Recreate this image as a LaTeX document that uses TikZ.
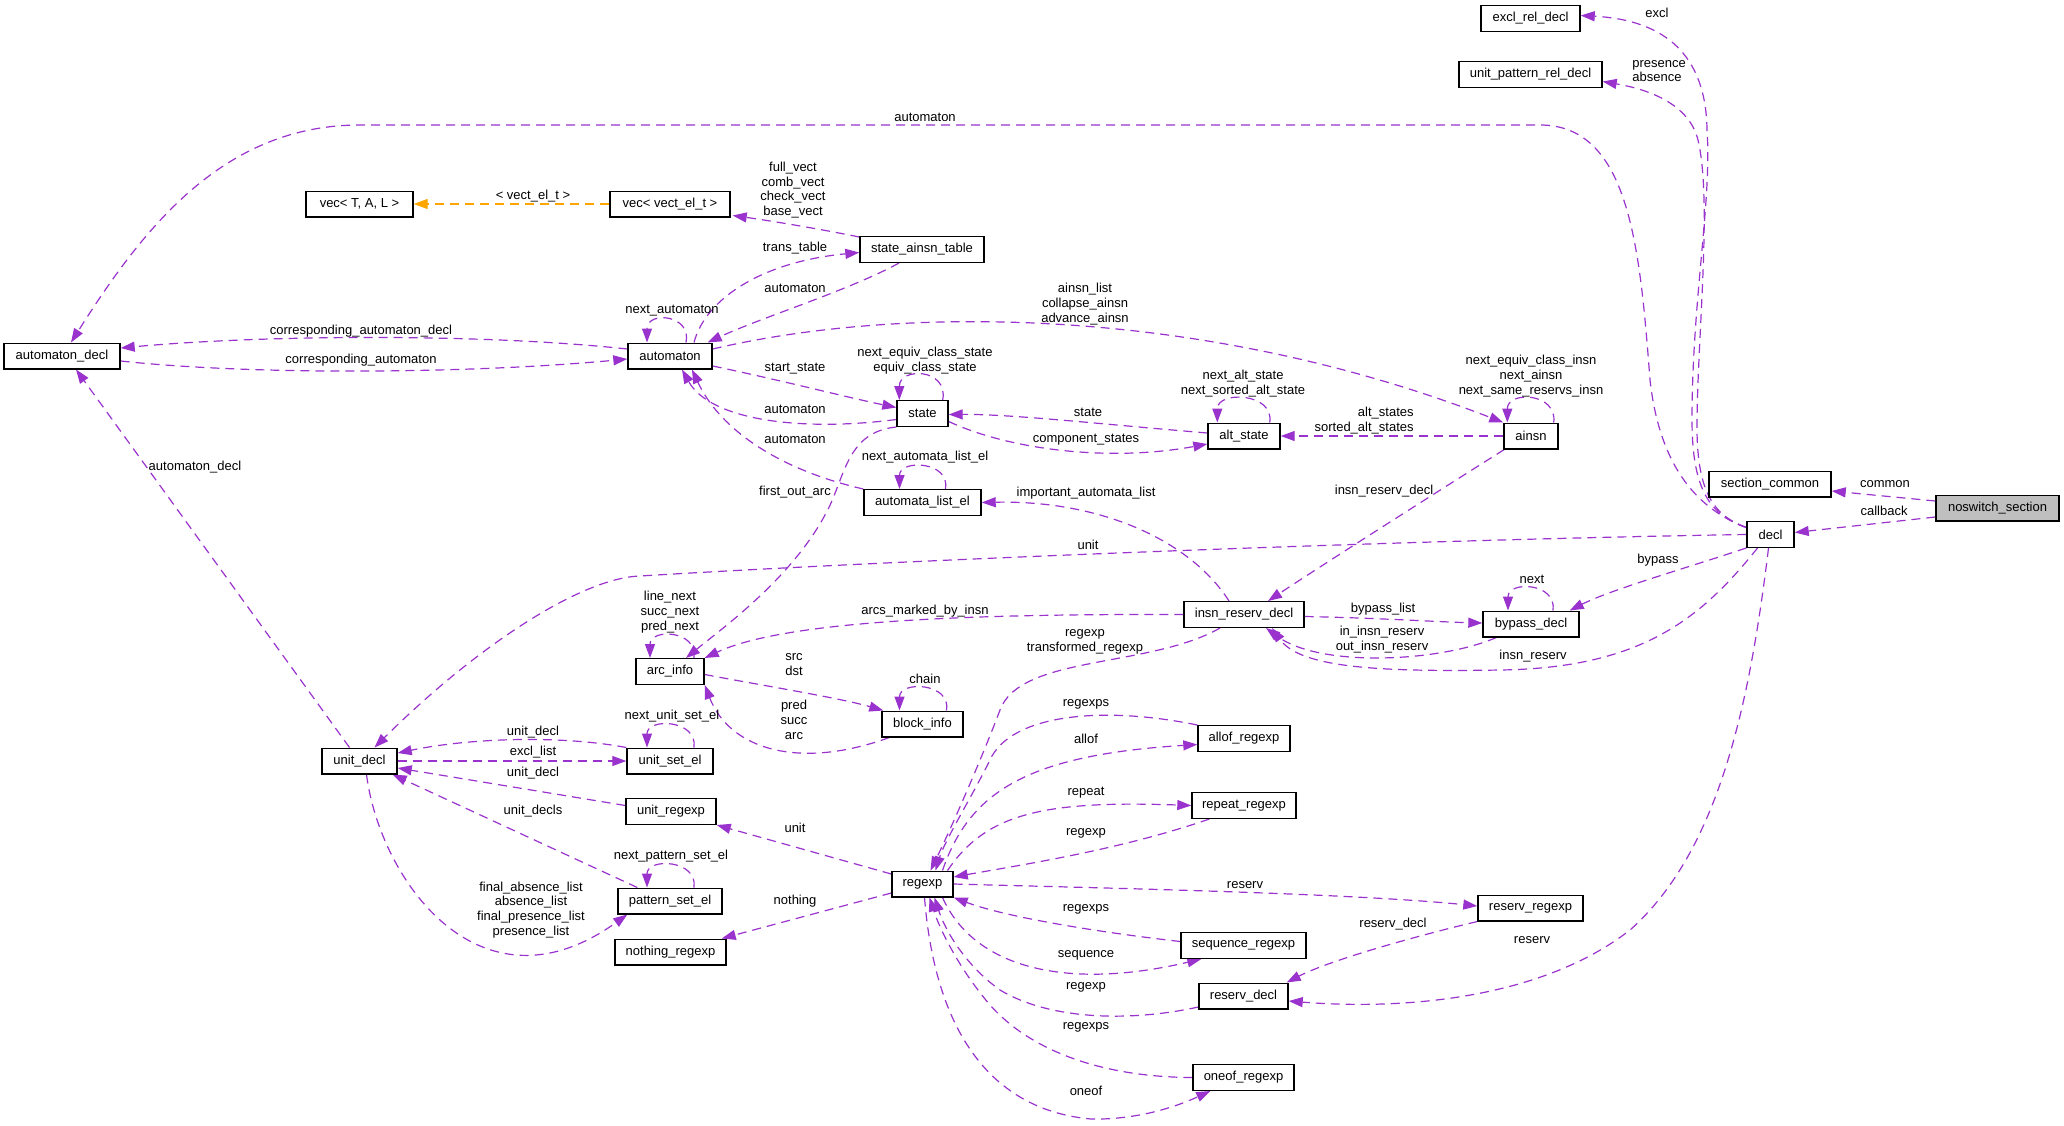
\documentclass[tikz,border=0pt]{standalone}
\usepackage{fontspec}
\setmainfont{Liberation Sans}
\usetikzlibrary{arrows.meta,calc}
\definecolor{relc}{RGB}{154,50,205}
\definecolor{tmplc}{RGB}{255,165,0}
\newcommand{\lblsize}{\fontsize{6.5}{7.4}\selectfont}
\pgfdeclarelayer{edges}
\pgfsetlayers{edges,main}
\tikzset{
  cls/.style={draw=black, line width=0.7pt, fill=white, inner sep=0pt, minimum height=12.8pt, font=\lblsize},
  rel/.style={draw=relc, line width=0.6pt, dash pattern=on 4.5pt off 3pt, -{Triangle[length=7pt,width=5pt]}},
  tmpl/.style={rel, draw=tmplc},
  lab/.style={font=\lblsize, align=center, inner sep=0pt},
}
\begin{document}
\begin{tikzpicture}[x=0.5pt,y=-0.5pt]
\useasboundingbox (0,0) rectangle (2064,1125);
% classes
\node[cls, minimum width=49.5pt] (excl) at (1530.5,18.5) {excl\_rel\_decl};
\node[cls, minimum width=71.5pt] (uprd) at (1530.5,74.5) {unit\_pattern\_rel\_decl};
\node[cls, minimum width=53.5pt] (vecT) at (359.5,204) {vec< T, A, L >};
\node[cls, minimum width=60pt] (vecV) at (670,204) {vec< vect\_el\_t >};
\node[cls, minimum width=62pt] (sat) at (922,249.5) {state\_ainsn\_table};
\node[cls, minimum width=58pt] (ad) at (62,356) {automaton\_decl};
\node[cls, minimum width=42pt] (aut) at (670,356) {automaton};
\node[cls, minimum width=25.5pt] (st) at (922.5,413.5) {state};
\node[cls, minimum width=36pt] (alts) at (1244,436) {alt\_state};
\node[cls, minimum width=27pt] (ainsn) at (1531,436) {ainsn};
\node[cls, minimum width=61pt] (sc) at (1770,484) {section\_common};
\node[cls, minimum width=61.5pt, fill=black!25] (ns) at (1997.5,508) {noswitch\_section};
\node[cls, minimum width=58.5pt] (ale) at (922.5,502.5) {automata\_list\_el};
\node[cls, minimum width=23.5pt] (decl) at (1770.5,534.5) {decl};
\node[cls, minimum width=60pt] (ird) at (1244,614.5) {insn\_reserv\_decl};
\node[cls, minimum width=48pt] (bd) at (1531,624) {bypass\_decl};
\node[cls, minimum width=34pt] (arcinfo) at (670,671.5) {arc\_info};
\node[cls, minimum width=40.5pt] (bi) at (922.5,724) {block\_info};
\node[cls, minimum width=46pt] (allof) at (1244,738.5) {allof\_regexp};
\node[cls, minimum width=37.5pt] (ud) at (359.5,761) {unit\_decl};
\node[cls, minimum width=43pt] (useset) at (670,761) {unit\_set\_el};
\node[cls, minimum width=45pt] (ur) at (671,811.5) {unit\_regexp};
\node[cls, minimum width=52pt] (rep) at (1244,805.5) {repeat\_regexp};
\node[cls, minimum width=30.5pt] (rx) at (922.5,884) {regexp};
\node[cls, minimum width=52.5pt] (rr) at (1530.5,908) {reserv\_regexp};
\node[cls, minimum width=52pt] (pse) at (670,901) {pattern\_set\_el};
\node[cls, minimum width=62.5pt] (seq) at (1243.5,945.5) {sequence\_regexp};
\node[cls, minimum width=55.5pt] (nr) at (670.5,952) {nothing\_regexp};
\node[cls, minimum width=44.5pt] (rd) at (1243.5,996) {reserv\_decl};
\node[cls, minimum width=50.5pt] (oneof) at (1243.5,1077.5) {oneof\_regexp};
% labels
\node[lab] (l1) at (1657,13) {excl};
\node[lab, anchor=west, align=left] (l2) at (1632,71) {presence\\absence};
\node[lab] (l3) at (925,117) {automaton};
\node[lab] (l4) at (533,196) {< vect\_el\_t >};
\node[lab] (l5) at (793,190) {full\_vect\\comb\_vect\\check\_vect\\base\_vect};
\node[lab] (l6) at (795,248) {trans\_table};
\node[lab] (l7) at (795,288) {automaton};
\node[lab] (l8) at (672,311) {next\_automaton};
\node[lab] (l9) at (1085,304) {ainsn\_list\\collapse\_ainsn\\advance\_ainsn};
\node[lab] (l10) at (795,369) {start\_state};
\node[lab] (l11) at (925,360.5) {next\_equiv\_class\_state\\equiv\_class\_state};
\node[lab] (l12) at (795,409) {automaton};
\node[lab] (l13) at (795,439) {automaton};
\node[lab] (l14) at (1243,383.5) {next\_alt\_state\\next\_sorted\_alt\_state};
\node[lab] (l15) at (1088,412) {state};
\node[lab] (l16) at (1086,440) {component\_states};
\node[lab, anchor=east, align=right] (l17) at (1414,420.5) {alt\_states\\sorted\_alt\_states};
\node[lab] (l18) at (1531,376) {next\_equiv\_class\_insn\\next\_ainsn\\next\_same\_reservs\_insn};
\node[lab] (l19) at (925,457) {next\_automata\_list\_el};
\node[lab] (l20) at (795,492) {first\_out\_arc};
\node[lab] (l21) at (1086,493) {important\_automata\_list};
\node[lab] (l22) at (1384,491) {insn\_reserv\_decl};
\node[lab] (l23) at (1885,484) {common};
\node[lab] (l24) at (1884,511) {callback};
\node[lab] (l25) at (1088,545) {unit};
\node[lab] (l26) at (1658,560) {bypass};
\node[lab] (l27) at (1532,579) {next};
\node[lab] (l28) at (1383,609) {bypass\_list};
\node[lab] (l29) at (1382,639.5) {in\_insn\_reserv\\out\_insn\_reserv};
\node[lab] (l30) at (1533,656) {insn\_reserv};
\node[lab] (l31) at (925,611) {arcs\_marked\_by\_insn};
\node[lab] (l32) at (670,612) {line\_next\\succ\_next\\pred\_next};
\node[lab] (l33) at (794,664.5) {src\\dst};
\node[lab] (l34) at (925,679) {chain};
\node[lab] (l35) at (794,719.7) {pred\\succ\\arc};
\node[lab] (l36) at (1085,642) {regexp\\transformed\_regexp};
\node[lab] (l37) at (1086,704) {regexps};
\node[lab] (l38) at (1086,739) {allof};
\node[lab] (l39) at (533,732) {unit\_decl};
\node[lab] (l40) at (533,752) {excl\_list};
\node[lab] (l41) at (533,773) {unit\_decl};
\node[lab] (l42) at (533,811) {unit\_decls};
\node[lab] (l43) at (672,716) {next\_unit\_set\_el};
\node[lab] (l44) at (195,467) {automaton\_decl};
\node[lab] (l45) at (361,331) {corresponding\_automaton\_decl};
\node[lab] (l46) at (361,360) {corresponding\_automaton};
\node[lab] (l47) at (1086,793) {repeat};
\node[lab] (l48) at (1086,833) {regexp};
\node[lab] (l49) at (795,828) {unit};
\node[lab] (l50) at (795,901) {nothing};
\node[lab] (l51) at (1245,885) {reserv};
\node[lab] (l52) at (1086,909) {regexps};
\node[lab] (l53) at (1086,955) {sequence};
\node[lab] (l54) at (1086,987) {regexp};
\node[lab] (l55) at (1086,1027) {regexps};
\node[lab] (l56) at (1086,1091) {oneof};
\node[lab] (l57) at (1393,924) {reserv\_decl};
\node[lab] (l58) at (1532,940) {reserv};
\node[lab] (l59) at (671,856) {next\_pattern\_set\_el};
\node[lab] (l60) at (531,910) {final\_absence\_list\\absence\_list\\final\_presence\_list\\presence\_list};
% edges
\begin{pgfonlayer}{edges}
\draw[rel] ($(decl.west)+(0,-7)$) .. controls (1710,515) and (1692,490) .. (1692,420) .. controls (1692,300) and (1712,200) .. (1707,130) .. controls (1706,55) and (1665,20) .. ($(excl.east)+(0,-3)$);
\draw[rel] ($(decl.west)+(0,-7)$) .. controls (1712,515) and (1696,490) .. (1697,420) .. controls (1698,330) and (1712,200) .. (1698,140) .. controls (1688,100) and (1640,88) .. ($(uprd.east)+(0,7)$);
\draw[rel] ($(decl.west)+(0,-7)$) .. controls (1700,510) and (1660,470) .. (1650,380) .. controls (1640,250) and (1630,125) .. (1540,125) -- (360,125) .. controls (225,125) and (145,225) .. ($(ad.north)+(9,0)$);
\draw[tmpl] (vecV.west) -- (vecT.east);
\draw[rel] ($(sat.north west)+(0,1)$) .. controls (815,228) and (765,220) .. ($(vecV.south east)+(2,-2)$);
\draw[rel] ($(aut.north)+(24,0)$) .. controls (705,300) and (760,262) .. ($(sat.west)+(0,3)$);
\draw[rel] ($(sat.south)+(-23,0)$) .. controls (850,290) and (760,318) .. ($(aut.north east)+(-5,0)$);
\draw[rel] ($(aut.north)+(16,0)$) .. controls +(6,-28) and +(0,-32) .. ($(aut.north)+(-23,0)$);
\draw[rel] ($(aut.east)+(0,-7)$) .. controls (900,305) and (1200,305) .. (ainsn.north west);
\draw[rel] ($(aut.east)+(0,10)$) .. controls (780,380) and (850,398) .. ($(st.west)+(0,-6)$);
\draw[rel] ($(st.west)+(0,6)$) .. controls (800,432) and (710,420) .. ($(aut.south)+(12,0)$);
\draw[rel] (ale.north west) .. controls (780,470) and (720,430) .. ($(aut.south)+(22,0)$);
\draw[rel] ($(st.north east)+(-6,0)$) .. controls +(6,-32) and +(0,-33) .. ($(st.north west)+(3,0)$);
\draw[rel] ($(alts.west)+(0,-3)$) .. controls (1100,424) and (1010,414) .. ($(st.east)+(0,1)$);
\draw[rel] ($(st.east)+(0,8)$) .. controls (1010,450) and (1110,462) .. ($(alts.west)+(0,8)$);
\draw[rel] ($(alts.north east)+(-11,0)$) .. controls +(5,-30) and +(0,-32) .. ($(alts.north west)+(10,0)$);
\draw[rel] (ainsn.west) -- (alts.east);
\draw[rel] ($(ainsn.north east)+(-5,0)$) .. controls +(4,-30) and +(0,-32) .. ($(ainsn.north west)+(4,0)$);
\draw[rel] ($(ainsn.south west)+(1,0)$) .. controls (1440,490) and (1330,560) .. ($(ird.north)+(24,0)$);
\draw[rel] (decl.west) .. controls (1400,540) and (900,560) .. (640,576) .. controls (580,578) and (474.5,648) .. ($(ud.north)+(15,0)$);
\draw[rel] ($(ird.north)+(-15,0)$) .. controls (1190,540) and (1100,500) .. (ale.east);
\draw[rel] ($(ale.north)+(23,0)$) .. controls +(5,-28) and +(0,-30) .. ($(ale.north)+(-23,0)$);
\draw[rel] (st.south west) .. controls (845,432) and (845,480) .. (825,515) .. controls (790,580) and (720,630) .. ($(arcinfo.north)+(16,0)$);
\draw[rel] ($(arcinfo.north)+(24,0)$) .. controls +(4,-28) and +(0,-30) .. ($(arcinfo.north)+(-20,0)$);
\draw[rel] (ird.west) .. controls (1000,614) and (790,618) .. (arcinfo.north east);
\draw[rel] ($(arcinfo.east)+(0,3)$) .. controls (760,685) and (840,698) .. ($(bi.north west)+(2,0)$);
\draw[rel] ($(bi.south west)+(8,0)$) .. controls (800,770) and (730,750) .. (arcinfo.south east);
\draw[rel] ($(bi.north)+(24,0)$) .. controls +(5,-28) and +(0,-30) .. ($(bi.north)+(-23,0)$);
\draw[rel] ($(ird.south)+(-24,0)$) .. controls (1150,668) and (1020,655) .. (1000,710) .. controls (985,750) and (955,820) .. ($(rx.north)+(8,0)$);
\draw[rel] (allof.north west) .. controls (1100,705) and (1010,715) .. (990,760) .. controls (970,800) and (945,840) .. ($(rx.north)+(13,0)$);
\draw[rel] ($(rx.north)+(20,0)$) .. controls (970,790) and (1030,755) .. ($(allof.west)+(0,6)$);
\draw[rel] ($(rx.north)+(25,0)$) .. controls (985,815) and (1040,800) .. (rep.west);
\draw[rel] ($(rep.south west)+(18,0)$) .. controls (1120,850) and (1020,865) .. ($(rx.east)+(0,-7)$);
\draw[rel] (rx.east) .. controls (1100,888) and (1350,893) .. ($(rr.west)+(0,-2)$);
\draw[rel] ($(seq.west)+(0,-4)$) .. controls (1080,930) and (1000,915) .. (rx.south east);
\draw[rel] ($(rx.south)+(20,0)$) .. controls (975,970) and (1070,990) .. ($(seq.south west)+(21,0)$);
\draw[rel] ($(rd.west)+(0,11)$) .. controls (1130,1022) and (1050,1020) .. (1000,990) .. controls (965,965) and (945,930) .. ($(rx.south)+(12,0)$);
\draw[rel] (oneof.west) .. controls (1100,1077) and (1030,1050) .. (990,1005) .. controls (960,970) and (940,930) .. ($(rx.south)+(7,0)$);
\draw[rel] ($(rx.south)+(2,0)$) .. controls (935,1030) and (990,1110) .. (1091,1119) .. controls (1140,1120) and (1180,1105) .. ($(oneof.south west)+(18,0)$);
\draw[rel] ($(rx.west)+(0,-10)$) -- (ur.south east);
\draw[rel] ($(rx.west)+(0,9)$) -- ($(nr.north east)+(-5,0)$);
\draw[rel] (rr.south west) .. controls (1420,935) and (1330,960) .. ($(rd.north east)+(-2,0)$);
\draw[rel] ($(decl.south)+(-2,0)$) .. controls (1750,700) and (1720,850) .. (1630,930) .. controls (1540,1000) and (1400,1010) .. ($(rd.east)+(0,5)$);
\draw[rel] ($(decl.south)+(-13,0)$) .. controls (1700,620) and (1640,668) .. (1500,670) .. controls (1380,672) and (1300,668) .. ($(ird.south)+(28,0)$);
\draw[rel] ($(bd.south west)+(14,0)$) .. controls (1440,662) and (1320,668) .. ($(ird.south)+(22,0)$);
\draw[rel] ($(ird.east)+(0,2)$) .. controls (1380,618) and (1440,622) .. ($(bd.west)+(0,-1)$);
\draw[rel] (decl.south west) .. controls (1680,570) and (1610,590) .. ($(bd.north east)+(-10,0)$);
\draw[rel] ($(bd.north)+(22,0)$) .. controls +(4,-28) and +(0,-30) .. ($(bd.north)+(-23,0)$);
\draw[rel] ($(ns.west)+(0,-7)$) -- ($(sc.east)+(0,7)$);
\draw[rel] ($(ns.west)+(0,9)$) -- ($(decl.east)+(0,-2)$);
\draw[rel] ($(ud.north)+(-10,0)$) -- ($(ad.south)+(14,0)$);
\draw[rel] ($(aut.west)+(0,-7)$) .. controls (480,333) and (260,335) .. ($(ad.east)+(0,-8)$);
\draw[rel] ($(ad.east)+(0,5)$) .. controls (260,376) and (480,373) .. ($(aut.west)+(0,3)$);
\draw[rel] (useset.north west) .. controls (560,735) and (470,738) .. ($(ud.east)+(0,-8)$);
\draw[rel] (ud.east) -- (useset.west);
\draw[rel] ($(useset.north)+(24,0)$) .. controls +(4,-28) and +(0,-30) .. ($(useset.north)+(-23,0)$);
\draw[rel] ($(ur.west)+(0,-6)$) -- ($(ud.east)+(0,7)$);
\draw[rel] ($(pse.north west)+(20,0)$) -- ($(ud.south east)+(-5,0)$);
\draw[rel] ($(ud.south)+(7,0)$) .. controls (380,880) and (480,1020) .. ($(pse.south west)+(10,0)$);
\draw[rel] ($(pse.north)+(24,0)$) .. controls +(4,-28) and +(0,-30) .. ($(pse.north)+(-23,0)$);
\end{pgfonlayer}
\end{tikzpicture}
\end{document}
